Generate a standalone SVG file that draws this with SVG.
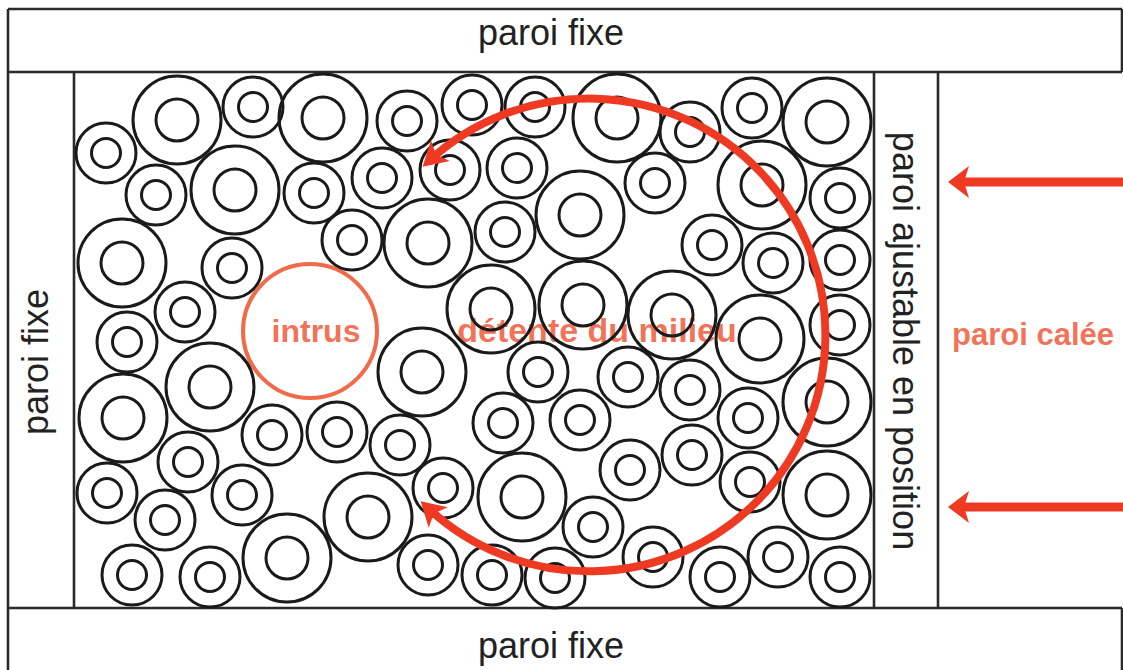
<svg xmlns="http://www.w3.org/2000/svg" xmlns:xlink="http://www.w3.org/1999/xlink" width="1123" height="670" viewBox="0 0 1123 670">
<style>
.frame{fill:none;stroke:#2a2a2a;stroke-width:2.6}
.ring circle{fill:none;stroke:#1a1a1a;stroke-width:3}
.lbl{font-family:"Liberation Sans",Arial,sans-serif;font-size:36px;fill:#222}
.red{font-family:"Liberation Sans",Arial,sans-serif;font-weight:bold;fill:#f05a3a;fill-opacity:0.85}
.arc{fill:none;stroke:#ee3a22;stroke-width:8}
.arrowhead{fill:#ee3a22}
</style>
<defs>
<g id="ringL" class="ring"><circle r="44"/><circle r="21"/></g>
<g id="ringS" class="ring"><circle r="30"/><circle r="14.5"/></g>
<marker id="ah" markerUnits="userSpaceOnUse" markerWidth="40" markerHeight="40" viewBox="-30 -20 40 40" refX="-10" refY="0" orient="auto-start-reverse">
<path d="M0,0 L-24,-14 L-18,0 L-24,14 Z" class="arrowhead"/>
</marker>
</defs>
<rect width="1123" height="670" fill="#fff"/>

<g id="frame">
<line class="frame" x1="8" y1="9" x2="1122" y2="9"/>
<line class="frame" x1="8" y1="72" x2="1122" y2="72"/>
<line class="frame" x1="8" y1="608" x2="1122" y2="608"/>
<line class="frame" x1="8" y1="9" x2="8" y2="670"/>
<line class="frame" x1="1122" y1="9" x2="1122" y2="72"/>
<line class="frame" x1="1122" y1="608" x2="1122" y2="670"/>
<line class="frame" x1="74" y1="72" x2="74" y2="608"/>
<line class="frame" x1="874" y1="72" x2="874" y2="608"/>
<line class="frame" x1="938" y1="72" x2="938" y2="608"/>
</g>

<g id="wall-top"><text class="lbl" x="551" y="45" text-anchor="middle">paroi fixe</text></g>
<g id="wall-bottom"><text class="lbl" x="551" y="658" text-anchor="middle">paroi fixe</text></g>
<g id="wall-left"><text class="lbl" transform="translate(48,362) rotate(-90)" text-anchor="middle">paroi fixe</text></g>
<g id="wall-adjustable"><text class="lbl" transform="translate(893,341) rotate(90)" text-anchor="middle">paroi ajustable en position</text></g>
<g id="wall-wedged"><text class="red" x="952" y="345" font-size="31">paroi calée</text></g>

<g id="intrus">
<circle cx="310" cy="331" r="67" fill="none" stroke="#f05a36" stroke-opacity="0.9" stroke-width="4"/>
<text class="red" x="316" y="342" font-size="32" text-anchor="middle">intrus</text>
</g>
<g id="detente-label"><text class="red" x="597" y="342" font-size="34" text-anchor="middle">détente du milieu</text></g>

<g id="particles">
<use href="#ringL" x="177" y="120"/>
<use href="#ringL" x="323" y="118"/>
<use href="#ringL" x="617" y="118"/>
<use href="#ringL" x="827" y="122"/>
<use href="#ringL" x="235" y="190"/>
<use href="#ringL" x="580" y="215"/>
<use href="#ringL" x="762" y="185"/>
<use href="#ringL" x="122" y="263"/>
<use href="#ringL" x="428" y="243"/>
<use href="#ringL" x="491" y="309"/>
<use href="#ringL" x="583" y="305"/>
<use href="#ringL" x="672" y="315"/>
<use href="#ringL" x="760" y="339"/>
<use href="#ringL" x="210" y="387"/>
<use href="#ringL" x="123" y="418"/>
<use href="#ringL" x="422" y="372"/>
<use href="#ringL" x="827" y="402"/>
<use href="#ringL" x="368" y="517"/>
<use href="#ringL" x="522" y="497"/>
<use href="#ringL" x="827" y="495"/>
<use href="#ringL" x="287" y="558"/>

<use href="#ringS" x="106" y="153"/>
<use href="#ringS" x="253" y="107"/>
<use href="#ringS" x="407" y="121"/>
<use href="#ringS" x="472" y="105"/>
<use href="#ringS" x="535" y="107"/>
<use href="#ringS" x="690" y="132"/>
<use href="#ringS" x="752" y="108"/>
<use href="#ringS" x="156" y="195"/>
<use href="#ringS" x="314" y="193"/>
<use href="#ringS" x="382" y="178"/>
<use href="#ringS" x="450" y="170"/>
<use href="#ringS" x="517" y="168"/>
<use href="#ringS" x="655" y="183"/>
<use href="#ringS" x="840" y="198"/>
<use href="#ringS" x="232" y="268"/>
<use href="#ringS" x="352" y="240"/>
<use href="#ringS" x="505" y="232"/>
<use href="#ringS" x="712" y="245"/>
<use href="#ringS" x="773" y="263"/>
<use href="#ringS" x="840" y="260"/>
<use href="#ringS" x="185" y="312"/>
<use href="#ringS" x="127" y="342"/>
<use href="#ringS" x="840" y="325"/>
<use href="#ringS" x="272" y="435"/>
<use href="#ringS" x="337" y="432"/>
<use href="#ringS" x="188" y="462"/>
<use href="#ringS" x="107" y="493"/>
<use href="#ringS" x="242" y="495"/>
<use href="#ringS" x="165" y="520"/>
<use href="#ringS" x="132" y="575"/>
<use href="#ringS" x="210" y="577"/>
<use href="#ringS" x="400" y="445"/>
<use href="#ringS" x="538" y="372"/>
<use href="#ringS" x="503" y="423"/>
<use href="#ringS" x="580" y="420"/>
<use href="#ringS" x="628" y="377"/>
<use href="#ringS" x="630" y="470"/>
<use href="#ringS" x="443" y="488"/>
<use href="#ringS" x="593" y="527"/>
<use href="#ringS" x="428" y="565"/>
<use href="#ringS" x="492" y="575"/>
<use href="#ringS" x="555" y="578"/>
<use href="#ringS" x="690" y="390"/>
<use href="#ringS" x="748" y="418"/>
<use href="#ringS" x="692" y="455"/>
<use href="#ringS" x="750" y="482"/>
<use href="#ringS" x="653" y="557"/>
<use href="#ringS" x="720" y="577"/>
<use href="#ringS" x="778" y="557"/>
<use href="#ringS" x="840" y="577"/>
</g>

<g id="connectors">
<path class="arc" d="M430,160 A236.4 236.4 0 1 1 428,508" marker-start="url(#ah)" marker-end="url(#ah)"/>
<line x1="1123" y1="182" x2="962" y2="182" stroke="#ee3a22" stroke-width="9"/>
<polygon class="arrowhead" points="948,182 969,166 964,182 969,198"/>
<line x1="1123" y1="507" x2="962" y2="507" stroke="#ee3a22" stroke-width="9"/>
<polygon class="arrowhead" points="948,507 969,491 964,507 969,523"/>
</g>
</svg>
